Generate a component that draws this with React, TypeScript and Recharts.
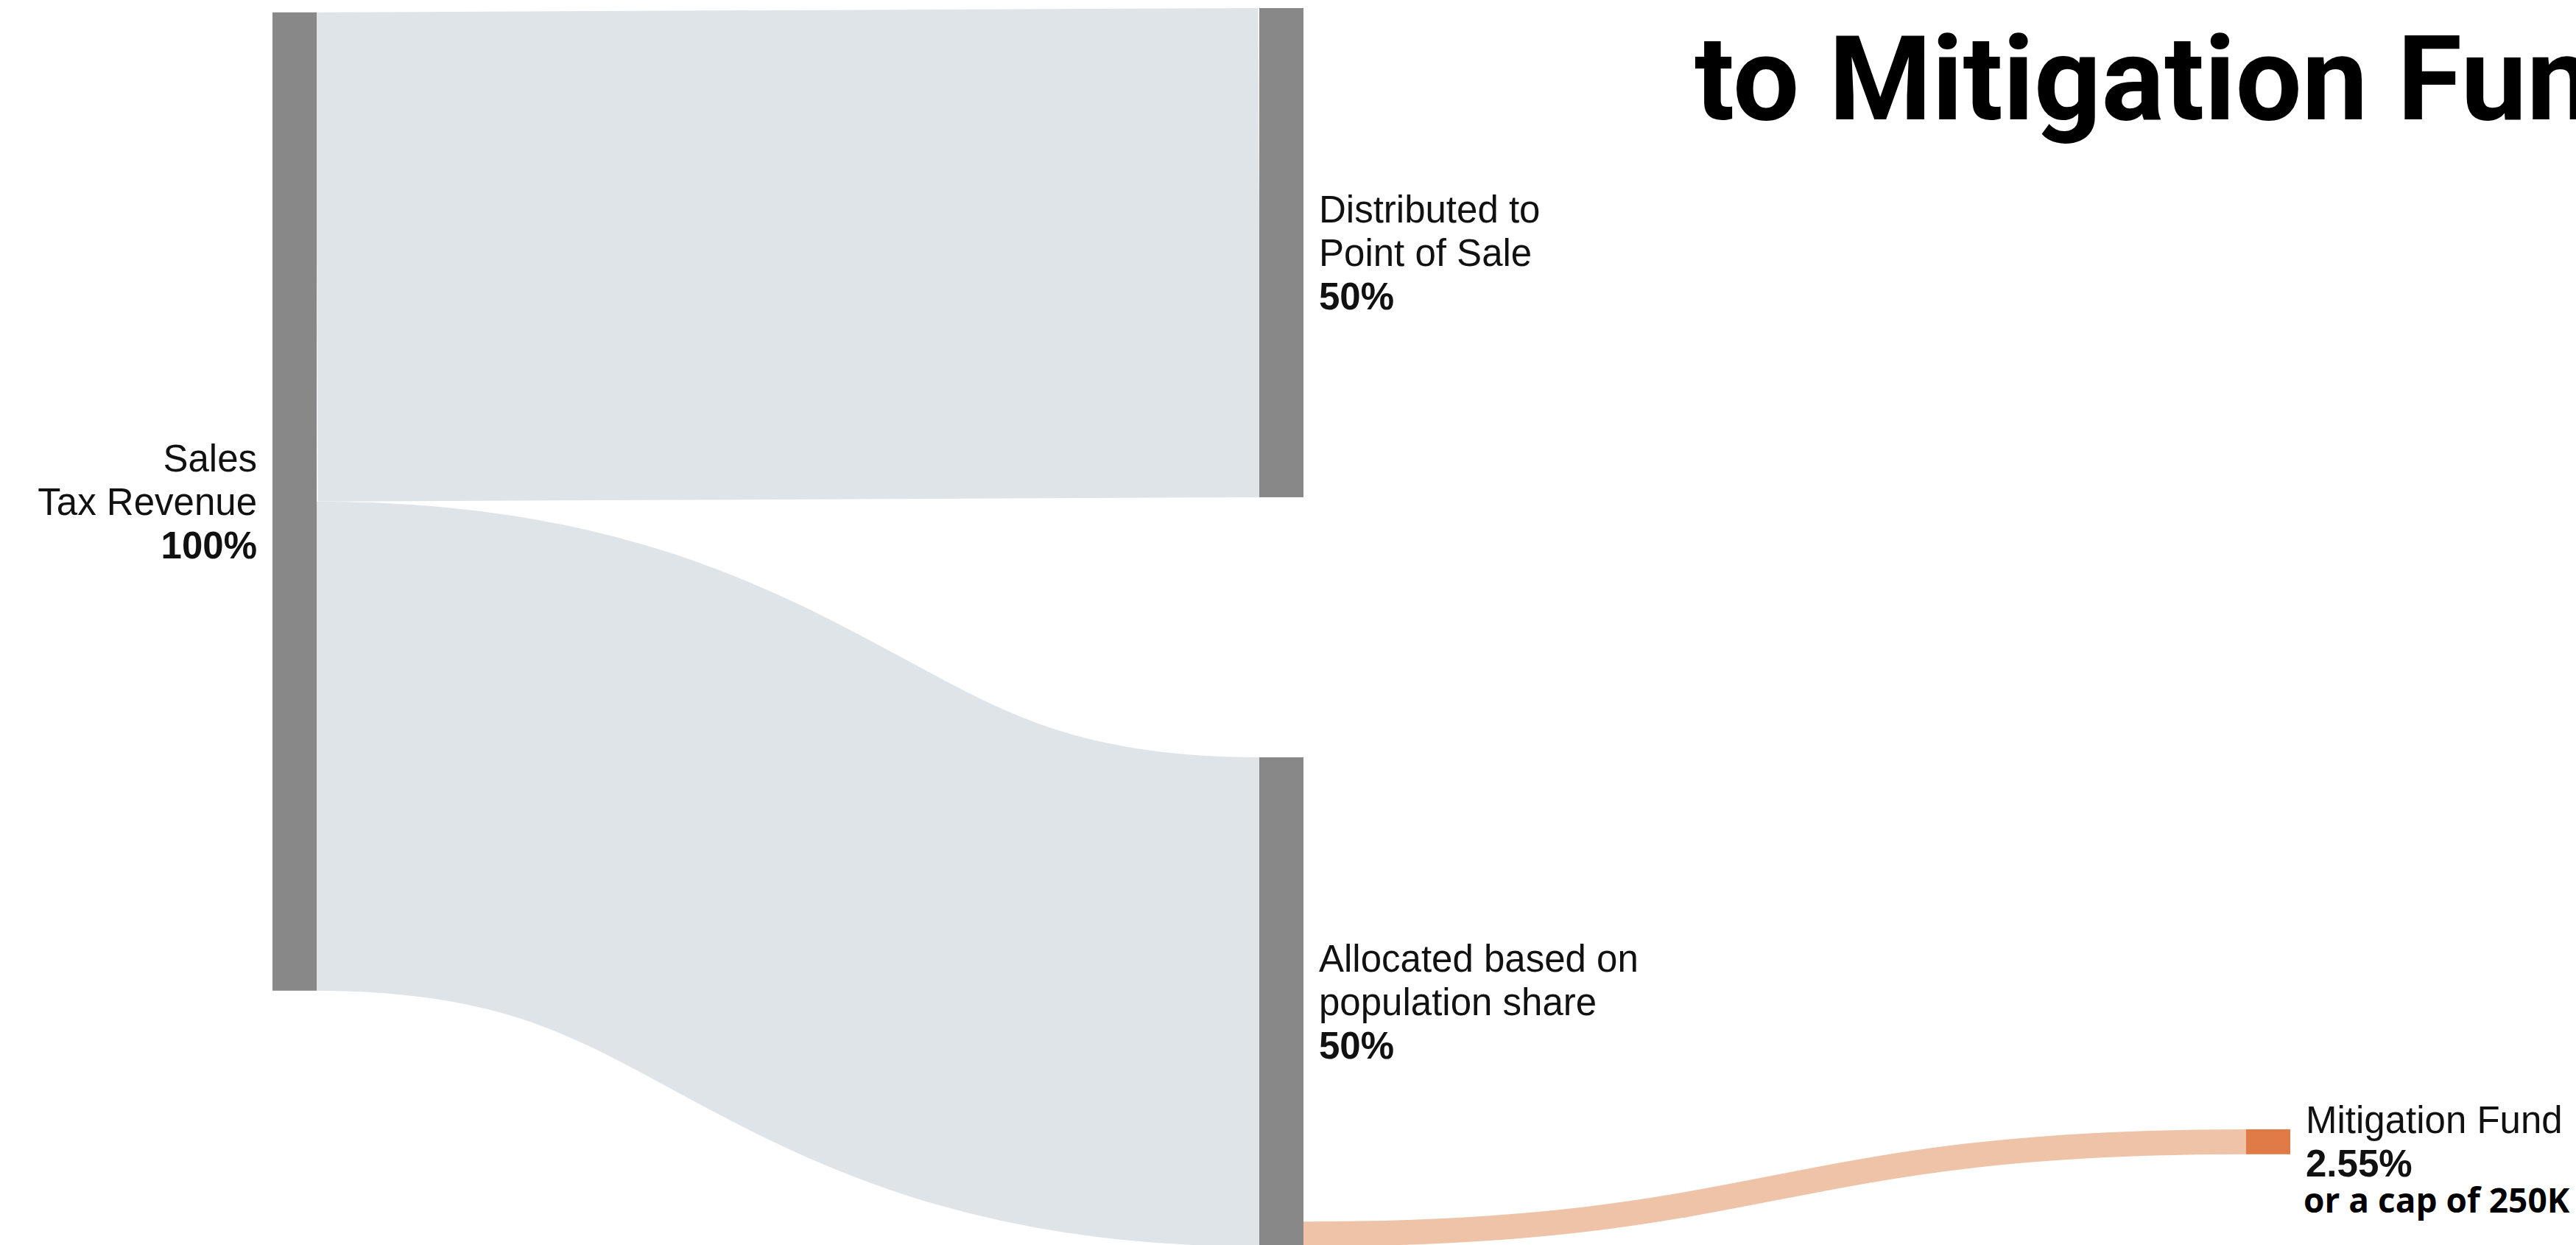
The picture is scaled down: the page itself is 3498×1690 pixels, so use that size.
import React from "react";
import { Sankey } from "recharts";

// Nodes (the "remainder" node is an invisible sink that keeps the
// mitigation flow at the bottom of the allocated bar)
const NODE_NAMES = [
  "Sales Tax Revenue",
  "Distributed to Point of Sale",
  "Allocated based on population share",
  "Remainder",
  "Mitigation Fund",
];
const NODE_HIDDEN = [false, false, false, true, false];
const LABEL_LINES = [
  ["Sales", "Tax Revenue"],
  ["Distributed to", "Point of Sale"],
  ["Allocated based on", "population share"],
  [],
  ["Mitigation Fund"],
];
const SHARES = ["100%", "50%", "50%", "", "2.55%"];
const NOTES = ["", "", "", "", "or a cap of 250K"];

const LINK_SOURCES = [0, 0, 2, 2];
const LINK_TARGETS = [1, 2, 3, 4];
const LINK_VALUES = [50, 50, 47.45, 2.55];

const TITLE = "to Mitigation Fund";

const data = {
  nodes: NODE_NAMES.map((name, i) => ({ name, hidden: NODE_HIDDEN[i], idx: i })),
  links: LINK_SOURCES.map((s, i) => ({ source: s, target: LINK_TARGETS[i], value: LINK_VALUES[i] })),
};

const W = 3498;
const H = 1703;
const FONT = '"Liberation Sans", Arial, sans-serif';
const FONT_SIZE = 51;
const LINE = 59;
const GAP = 21;

const NODE_GRAY = "#888888";
const LINK_GRAY = "#dfe4e8";
const MIT_NODE = "#e07a46";
const MIT_LINK = "#efc3a7";

function renderNode(props: any) {
  const { x, y, width, height, payload } = props;
  const i = payload.idx;
  if (payload.hidden) return <g />;
  const isMit = i === 4;
  const lines = [...LABEL_LINES[i], SHARES[i]];
  const cy = y + height / 2;
  const first = cy - ((lines.length - 1) * LINE) / 2 + 18;
  const left = payload.depth === 0;
  const tx = left ? x - GAP : x + width + GAP;
  return (
    <g>
      <rect x={x} y={y} width={width} height={height} fill={isMit ? MIT_NODE : NODE_GRAY} />
      <text
        x={tx}
        y={first}
        textAnchor={left ? "end" : "start"}
        fontFamily={FONT}
        fontSize={FONT_SIZE}
        fill="#111"
      >
        {lines.map((l, k) => (
          <tspan key={k} x={tx} y={first + k * LINE} fontWeight={k === lines.length - 1 ? 700 : 400}>
            {l}
          </tspan>
        ))}
      </text>
      {NOTES[i] ? (
        <text
          x={tx - 3}
          y={first + (lines.length - 1) * LINE + 49}
          fontFamily='"Open Sans", sans-serif'
          fontWeight={700}
          fontSize={46}
          fill="#000"
        >
          {NOTES[i]}
        </text>
      ) : null}
    </g>
  );
}

function renderLink(props: any) {
  const { sourceX, targetX, sourceY, targetY, sourceControlX, targetControlX, linkWidth, payload } = props;
  const target = typeof payload.target === "object" ? payload.target : data.nodes[payload.target];
  if (target.hidden) return <g />;
  const isMit = target.idx === 4;
  return (
    <path
      d={`M${sourceX},${sourceY} C${sourceControlX},${sourceY} ${targetControlX},${targetY} ${targetX},${targetY}`}
      fill="none"
      stroke={isMit ? MIT_LINK : LINK_GRAY}
      strokeWidth={linkWidth}
    />
  );
}

export default function App() {
  return (
    <div
      style={{
        position: "fixed",
        left: 0,
        top: 0,
        width: W,
        height: 1690,
        overflow: "hidden",
        background: "#fff",
      }}
    >
      <Sankey
        width={W}
        height={H}
        data={data}
        margin={{ top: 11, bottom: 11, left: 370, right: 388 }}
        nodeWidth={60}
        nodePadding={353}
        sort={false}
        align="left"
        iterations={32}
        node={renderNode}
        link={renderLink}
      />
      <svg
        width={W}
        height={260}
        style={{ position: "absolute", left: 0, top: 0, pointerEvents: "none" }}
      >
        <text x={2301} y={162} fontFamily="Roboto, sans-serif" fontWeight={700} fontSize={160} fill="#000">
          {TITLE}
        </text>
      </svg>
    </div>
  );
}
